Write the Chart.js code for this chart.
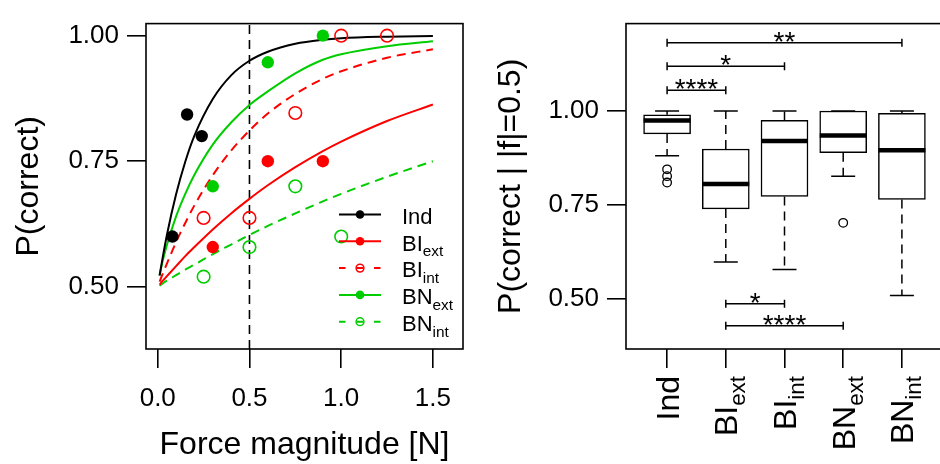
<!DOCTYPE html>
<html>
<head>
<meta charset="utf-8">
<script src="https://cdn.jsdelivr.net/npm/chart.js@4/dist/chart.umd.min.js"></script>
<style>
  html, body { margin: 0; padding: 0; background: #fff; overflow: hidden; }
  body { width: 940px; height: 464px; position: relative; }
  canvas { position: absolute; top: 0; }
  #left { left: 0; }
  #right { left: 480px; }
</style>
</head>
<body>
<canvas id="left" width="480" height="464"></canvas>
<canvas id="right" width="480" height="464"></canvas>
<script>
/* ===== data : left panel (fitted curves + observed proportions) ===== */
const FIT_X     = [0.01, 0.025, 0.05, 0.1, 0.15, 0.2, 0.3, 0.4, 0.5, 0.6, 0.75, 0.9, 1.0, 1.25, 1.5];
const FIT_IND   = [0.522, 0.554, 0.603, 0.684, 0.749, 0.801, 0.874, 0.921, 0.950, 0.968, 0.984, 0.992, 0.995, 0.998, 0.9995];
const FIT_BIEXT = [0.504, 0.511, 0.521, 0.541, 0.561, 0.579, 0.614, 0.646, 0.675, 0.702, 0.738, 0.770, 0.789, 0.830, 0.863];
const FIT_BIINT = [0.510, 0.524, 0.546, 0.589, 0.627, 0.662, 0.722, 0.771, 0.811, 0.845, 0.884, 0.914, 0.929, 0.956, 0.973];
const FIT_BNEXT = [0.523, 0.548, 0.583, 0.640, 0.685, 0.723, 0.783, 0.827, 0.862, 0.889, 0.925, 0.952, 0.963, 0.979, 0.989];
const FIT_BNINT = [0.502, 0.506, 0.512, 0.523, 0.534, 0.544, 0.565, 0.584, 0.603, 0.621, 0.646, 0.670, 0.685, 0.719, 0.750];

const IND_X   = [0.08, 0.16, 0.24];
const IND_Y   = [0.600, 0.843, 0.800];
const BIEXT_X = [0.3, 0.6, 0.9];
const BIEXT_Y = [0.579, 0.750, 0.750];
const BIINT_X = [0.25, 0.5, 0.75, 1.0, 1.25];
const BIINT_Y = [0.637, 0.637, 0.846, 1.000, 1.000];
const BNEXT_X = [0.3, 0.6, 0.9];
const BNEXT_Y = [0.700, 0.947, 1.000];
const BNINT_X = [0.25, 0.5, 0.75, 1.0];
const BNINT_Y = [0.520, 0.579, 0.700, 0.600];

const LEFT_X_TICKS = [0, 0.5, 1.0, 1.5];
const LEFT_Y_TICKS = [0.5, 0.75, 1.0];
const REF_FORCE = 0.5;

/* ===== data : right panel (boxplots at |f| = 0.5) ===== */
const GROUP_NAME = ['Ind', 'BI', 'BI', 'BN', 'BN'];
const GROUP_SUB  = ['', 'ext', 'int', 'ext', 'int'];
const BOX_LO  = [0.881, 0.599, 0.579, 0.827, 0.510];
const BOX_Q1  = [0.939, 0.740, 0.773, 0.889, 0.765];
const BOX_MED = [0.975, 0.806, 0.920, 0.935, 0.896];
const BOX_Q3  = [0.990, 0.899, 0.975, 1.000, 0.994];
const BOX_HI  = [1.000, 1.000, 1.000, 1.000, 1.000];
const OUT_GROUP = [1, 1, 1, 4];
const OUT_VAL   = [0.845, 0.827, 0.810, 0.703];

const SIG_FROM = [1, 1, 1, 2, 2];
const SIG_TO   = [5, 3, 2, 3, 4];
const SIG_Y    = [1.181, 1.119, 1.055, 0.488, 0.430];
const SIG_TEXT = ['**', '*', '****', '*', '****'];
const RIGHT_Y_TICKS = [0.5, 0.75, 1.0];

/* ===== styles ===== */
const FONT = '"Liberation Sans", Arial, sans-serif';
const CAP = 0.716;               // cap height / em (Arial metrics)
const BLACK = '#000000', RED = '#ff0000', GREEN = '#00cd00';
const SERIES_COLOR  = [BLACK, RED, RED, GREEN, GREEN];
const SERIES_DASHED = [false, false, true, false, true];
const SERIES_FILLED = [true, true, false, true, false];
const DASH = [9, 6];
const TICK_SIZE = 26, TITLE_SIZE = 32, GROUP_SIZE = 32, LEG_FONT = 22, STAR_SIZE = 28;

Chart.defaults.font.family = FONT;
Chart.defaults.color = '#000';

const xy = (xs, ys) => xs.map((x, i) => ({ x: x, y: ys[i] }));

/* text with an optional subscript, left aligned at (x, y baseline) */
function subWidth(ctx, main, sub, size) {
    ctx.font = size + 'px ' + FONT;
    let w = ctx.measureText(main).width;
    if (sub) {
        ctx.font = (size * 0.7) + 'px ' + FONT;
        w += ctx.measureText(sub).width;
    }
    return w;
}
function drawSub(ctx, main, sub, x, y, size) {
    ctx.textAlign = 'left';
    ctx.textBaseline = 'alphabetic';
    ctx.font = size + 'px ' + FONT;
    ctx.fillText(main, x, y);
    if (sub) {
        const w = ctx.measureText(main).width;
        ctx.font = (size * 0.7) + 'px ' + FONT;
        ctx.fillText(sub, x + w, y + size * 0.25);
    }
}

// box round the plot region (R style)
const framePlugin = {
    id: 'frame',
    afterDraw(chart) {
        const { ctx, chartArea: a } = chart;
        ctx.save();
        ctx.strokeStyle = '#000';
        ctx.lineWidth = 1.6;
        ctx.strokeRect(a.left, a.top, a.right - a.left, a.bottom - a.top);
        ctx.restore();
    }
};

/* ===== left chart ===== */
const fits = [FIT_IND, FIT_BIEXT, FIT_BIINT, FIT_BNEXT, FIT_BNINT];
const obsX = [IND_X, BIEXT_X, BIINT_X, BNEXT_X, BNINT_X];
const obsY = [IND_Y, BIEXT_Y, BIINT_Y, BNEXT_Y, BNINT_Y];
const LEFT_Y_MIN = 0.376, LEFT_Y_MAX = 1.024;

const leftSets = [];
GROUP_NAME.forEach((name, i) => {
    leftSets.push({
        label: name + GROUP_SUB[i] + ' fit',
        data: xy(FIT_X, fits[i]),
        showLine: true,
        pointRadius: 0,
        borderColor: SERIES_COLOR[i],
        borderWidth: 2,
        borderDash: SERIES_DASHED[i] ? DASH : [],
        cubicInterpolationMode: 'monotone',
        order: 2
    });
    leftSets.push({
        label: name + GROUP_SUB[i],
        data: xy(obsX[i], obsY[i]),
        showLine: false,
        pointRadius: SERIES_FILLED[i] ? 6.2 : 6.3,
        pointBorderWidth: SERIES_FILLED[i] ? 0 : 1.6,
        pointBorderColor: SERIES_COLOR[i],
        pointBackgroundColor: SERIES_FILLED[i] ? SERIES_COLOR[i] : 'rgba(0,0,0,0)',
        order: 1
    });
});
leftSets.push({
    label: 'ref',
    data: [{ x: REF_FORCE, y: LEFT_Y_MIN }, { x: REF_FORCE, y: LEFT_Y_MAX }],
    showLine: true,
    pointRadius: 0,
    borderColor: BLACK,
    borderWidth: 1.6,
    borderDash: DASH,
    order: 3
});

const LEG_X0 = 339, LEG_X1 = 381, LEG_TEXT_X = 402, LEG_TOP = 214.5, LEG_STEP = 26.8;
const legendPlugin = {
    id: 'rLegend',
    afterDraw(chart) {
        const ctx = chart.ctx;
        GROUP_NAME.forEach((name, i) => {
            const y = LEG_TOP + i * LEG_STEP;
            const mx = (LEG_X0 + LEG_X1) / 2;
            ctx.save();
            ctx.strokeStyle = SERIES_COLOR[i];
            ctx.fillStyle = SERIES_COLOR[i];
            ctx.lineWidth = 2;
            ctx.setLineDash(SERIES_DASHED[i] ? [6.5, 11] : []);
            ctx.beginPath();
            ctx.moveTo(LEG_X0, y);
            ctx.lineTo(LEG_X1, y);
            ctx.stroke();
            ctx.setLineDash([]);
            ctx.beginPath();
            if (SERIES_FILLED[i]) {
                ctx.arc(mx, y, 4.3, 0, 2 * Math.PI);
                ctx.fill();
            } else {
                ctx.lineWidth = 1.5;
                ctx.arc(mx, y, 3.9, 0, 2 * Math.PI);
                ctx.stroke();
            }
            ctx.fillStyle = '#000';
            drawSub(ctx, name, GROUP_SUB[i], LEG_TEXT_X, y + CAP * LEG_FONT / 2 + 1.5, LEG_FONT);
            ctx.restore();
        });
    }
};

const axisGrid = { drawOnChartArea: false, drawTicks: true, tickLength: 19, color: '#000', lineWidth: 1.6 };

new Chart(document.getElementById('left'), {
    type: 'scatter',
    data: { datasets: leftSets },
    options: {
        responsive: false,
        animation: false,
        events: [],
        layout: { autoPadding: false, padding: { top: 13, right: 17, bottom: 0, left: 0 } },
        plugins: { legend: { display: false }, tooltip: { enabled: false } },
        scales: {
            x: {
                type: 'linear', min: -0.064, max: 1.664,
                afterBuildTicks: s => { s.ticks = LEFT_X_TICKS.map(v => ({ value: v })); },
                afterFit: s => { s.height = 115; },
                grid: axisGrid,
                border: { display: false },
                ticks: { font: { size: TICK_SIZE }, color: '#000', padding: 15, maxRotation: 0, autoSkip: false,
                         callback: v => v.toFixed(1) },
                title: { display: true, text: 'Force magnitude [N]', font: { size: TITLE_SIZE }, color: '#000',
                         padding: { top: 0, bottom: 0 } }
            },
            y: {
                type: 'linear', min: LEFT_Y_MIN, max: LEFT_Y_MAX,
                afterBuildTicks: s => { s.ticks = LEFT_Y_TICKS.map(v => ({ value: v })); },
                afterFit: s => { s.width = 146; },
                grid: axisGrid,
                border: { display: false },
                ticks: { font: { size: TICK_SIZE }, color: '#000', padding: 8, autoSkip: false,
                         callback: v => v.toFixed(2) },
                title: { display: true, text: 'P(correct)', font: { size: TITLE_SIZE }, color: '#000',
                         padding: { top: 10, bottom: 0 } }
            }
        }
    },
    plugins: [framePlugin, legendPlugin]
});

/* ===== right chart ===== */
const whiskerPts = [];
const capPts = [];
GROUP_NAME.forEach((name, i) => {
    const g = i + 1;
    whiskerPts.push({ x: g, y: BOX_Q3[i] }, { x: g, y: BOX_HI[i] }, { x: g, y: null },
                    { x: g, y: BOX_Q1[i] }, { x: g, y: BOX_LO[i] }, { x: g, y: null });
    capPts.push({ x: g, y: BOX_LO[i] }, { x: g, y: BOX_HI[i] });
});
const bracketPts = [];
SIG_TEXT.forEach((t, j) => {
    bracketPts.push({ x: SIG_FROM[j], y: SIG_Y[j] }, { x: SIG_TO[j], y: SIG_Y[j] }, { x: SIG_TO[j], y: null });
});

const rightSets = [
    {
        type: 'bar', label: 'box',
        data: GROUP_NAME.map((n, i) => ({ x: i + 1, y: [BOX_Q1[i], BOX_Q3[i]] })),
        backgroundColor: '#ffffff', borderColor: '#000', borderWidth: 1.5, borderSkipped: false,
        barThickness: 47, grouped: false, order: 5
    },
    {
        label: 'whiskers', data: whiskerPts, showLine: true, spanGaps: false, pointRadius: 0,
        borderColor: '#000', borderWidth: 1.5, borderDash: DASH, order: 4
    },
    {
        label: 'staples', data: capPts, showLine: false, pointStyle: 'line', pointRadius: 12,
        pointBorderWidth: 1.5, pointBorderColor: '#000', order: 3
    },
    {
        label: 'median', data: xy(GROUP_NAME.map((n, i) => i + 1), BOX_MED), showLine: false,
        pointStyle: 'line', pointRadius: 23.5, pointBorderWidth: 4.5, pointBorderColor: '#000', order: 1
    },
    {
        label: 'outliers', data: xy(OUT_GROUP, OUT_VAL), showLine: false, pointRadius: 4.3,
        pointBorderWidth: 1.3, pointBorderColor: '#000', pointBackgroundColor: 'rgba(0,0,0,0)', order: 2
    },
    {
        label: 'brackets', data: bracketPts, showLine: true, spanGaps: false,
        borderColor: '#000', borderWidth: 1.5,
        pointStyle: 'line', pointRotation: 90, pointRadius: 4, pointBorderWidth: 1.5,
        pointBorderColor: '#000', order: 2
    }
];

const groupLabelPlugin = {
    id: 'groupLabels',
    afterDraw(chart) {
        const { ctx, scales: { x, y }, chartArea } = chart;
        GROUP_NAME.forEach((name, i) => {
            const px = x.getPixelForValue(i + 1);
            const w = subWidth(ctx, name, GROUP_SUB[i], GROUP_SIZE);
            ctx.save();
            ctx.translate(px, chartArea.bottom + 27);
            ctx.rotate(-Math.PI / 2);
            ctx.fillStyle = '#000';
            drawSub(ctx, name, GROUP_SUB[i], -w, CAP * GROUP_SIZE / 2, GROUP_SIZE);
            ctx.restore();
        });
        ctx.save();
        ctx.font = STAR_SIZE + 'px ' + FONT;
        ctx.textAlign = 'center';
        ctx.textBaseline = 'alphabetic';
        ctx.fillStyle = '#000';
        SIG_TEXT.forEach((t, j) => {
            const cx = (x.getPixelForValue(SIG_FROM[j]) + x.getPixelForValue(SIG_TO[j])) / 2;
            ctx.fillText(t, cx, y.getPixelForValue(SIG_Y[j]) + 8);
        });
        ctx.restore();
    }
};

new Chart(document.getElementById('right'), {
    type: 'scatter',
    data: { datasets: rightSets },
    options: {
        responsive: false,
        animation: false,
        events: [],
        layout: { autoPadding: false, padding: { top: 13, right: 17, bottom: 0, left: 0 } },
        plugins: { legend: { display: false }, tooltip: { enabled: false } },
        scales: {
            x: {
                type: 'linear', min: 0.3, max: 5.7, offset: false,
                afterBuildTicks: s => { s.ticks = GROUP_NAME.map((n, i) => ({ value: i + 1 })); },
                afterFit: s => { s.height = 115; },
                grid: Object.assign({ offset: false }, axisGrid),
                border: { display: false },
                ticks: { display: false }
            },
            y: {
                type: 'linear', min: 0.368, max: 1.232, beginAtZero: false,
                afterBuildTicks: s => { s.ticks = RIGHT_Y_TICKS.map(v => ({ value: v })); },
                afterFit: s => { s.width = 146; },
                grid: axisGrid,
                border: { display: false },
                ticks: { font: { size: TICK_SIZE }, color: '#000', padding: 8, autoSkip: false,
                         callback: v => v.toFixed(2) },
                title: { display: true, text: 'P(correct | |f|=0.5)', font: { size: TITLE_SIZE }, color: '#000',
                         padding: { top: 12, bottom: 0 } }
            }
        }
    },
    plugins: [framePlugin, groupLabelPlugin]
});
</script>
</body>
</html>
